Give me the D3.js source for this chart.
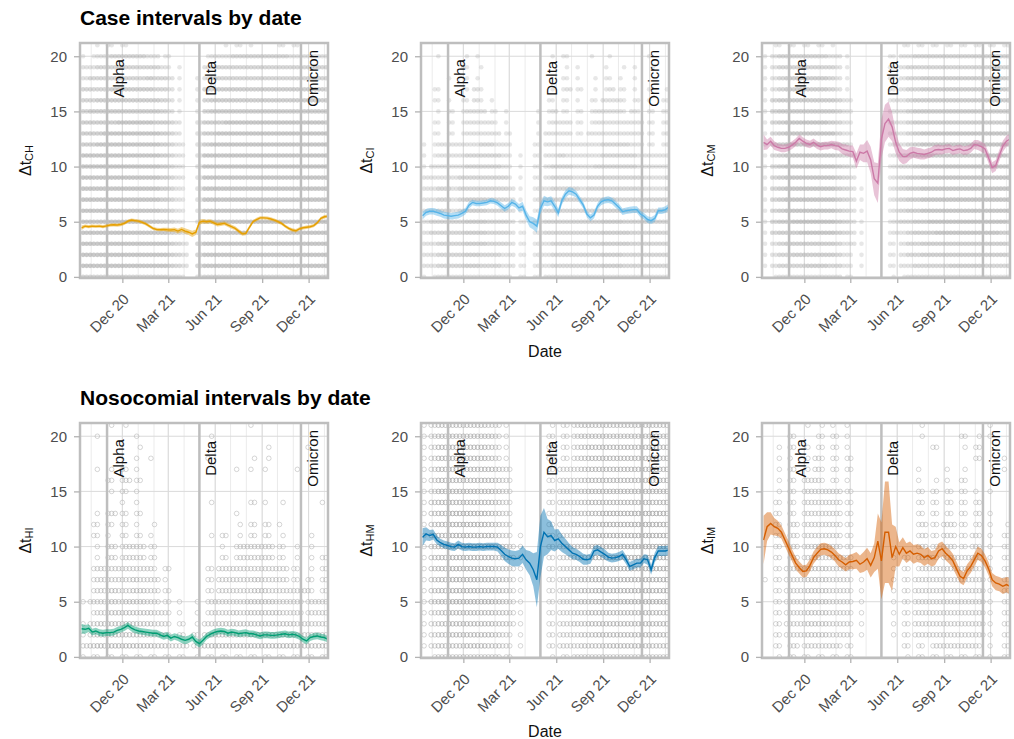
<!DOCTYPE html>
<html>
<head>
<meta charset="utf-8">
<title>Case and nosocomial intervals by date</title>
<script src="https://d3js.org/d3.v7.min.js"></script>
<style>
  body { margin: 0; background: #fff; }
  svg text { font-family: "Liberation Sans", Arial, Helvetica, sans-serif; }
</style>
</head>
<body>
<div id="chart"></div>
<script>
// weekly estimates, first and last week
var firstWeek = "2020-09-12", lastWeek = "2022-01-08";

var tickDates = ["2020-12-01", "2021-03-01", "2021-06-01", "2021-09-01", "2021-12-01"];
var tickLabels = ["Dec 20", "Mar 21", "Jun 21", "Sep 21", "Dec 21"];
var yTicks = [0, 5, 10, 15, 20];

var variants = ["Alpha", "Delta", "Omicron"];
var variantDates = ["2020-11-01", "2021-05-01", "2021-11-16"];

// mean interval (days) per week
var chMean = [4.45,4.6,4.55,4.6,4.58,4.6,4.55,4.62,4.7,4.72, 4.7,4.75,4.85,5.05,5.15,5.1,5.05,4.95,4.8,4.6,
  4.4,4.3,4.28,4.3,4.27,4.25,4.28,4.15,4.3,4.15, 4.05,3.9,4.05,4.95,5.05,5.0,5.05,4.9,4.75,4.8,
  4.85,4.7,4.55,4.4,4.15,3.9,3.95,4.5,5.0,5.2, 5.35,5.35,5.33,5.25,5.15,5.0,4.85,4.6,4.4,4.25,
  4.18,4.35,4.45,4.5,4.55,4.65,4.9,5.3,5.45,5.5];
var ciMean = [5.55,5.85,5.95,5.95,5.85,5.75,5.6,5.55,5.5,5.55, 5.6,5.75,5.95,6.5,6.75,6.65,6.65,6.7,6.75,6.9,
  6.85,6.7,6.45,6.2,6.4,6.75,6.6,6.25,6.4,5.6, 5.0,4.85,4.6,6.2,6.9,6.8,6.9,6.4,5.8,6.9,
  7.5,7.8,7.7,7.5,7.0,6.5,5.7,5.35,5.6,6.4, 6.8,6.95,7.0,6.9,6.6,6.3,5.9,6.0,6.05,6.1,
  6.1,5.7,5.5,5.2,5.1,5.3,6.0,6.0,6.1,6.35];
var cmMean = [12.2,12.0,12.3,11.9,11.75,11.65,11.65,11.75,11.95,12.2, 12.55,12.3,12.1,12.0,12.2,11.95,11.8,11.9,11.9,12.0,
  11.9,11.85,11.6,11.5,11.4,11.35,10.5,11.3,11.2,11.4, 10.6,8.9,8.5,12.5,13.9,14.3,13.6,12.2,11.3,10.9,
  10.9,11.2,11.3,11.2,11.15,11.1,11.2,11.3,11.5,11.55, 11.5,11.6,11.65,11.45,11.55,11.6,11.45,11.5,11.65,12.0,
  11.95,11.8,11.6,10.8,9.9,10.1,11.0,11.85,12.3,12.5];
var hiMean = [2.55,2.5,2.6,2.25,2.35,2.2,2.15,2.2,2.2,2.25, 2.4,2.5,2.65,2.85,2.6,2.45,2.35,2.3,2.25,2.2,
  2.15,2.15,2.0,1.85,1.95,1.7,1.85,1.75,1.6,1.5, 1.6,1.8,1.4,1.2,1.5,1.85,2.05,2.2,2.3,2.35,
  2.3,2.15,2.25,2.2,2.1,2.15,2.2,2.1,2.1,2.0, 1.9,2.0,2.0,1.95,1.95,2.0,2.05,2.1,2.0,2.05,
  2.0,1.85,1.6,1.45,1.75,1.85,1.9,1.8,1.75,1.6];
var hmMean = [10.85,11.15,11.0,11.1,10.6,10.35,10.2,10.1,10.0,9.95, 10.2,10.0,9.95,10.0,9.95,9.95,10.0,9.95,10.0,10.0,
  10.0,9.95,9.65,9.3,9.1,8.95,8.9,8.95,9.3,8.8, 8.5,7.9,7.0,10.0,11.3,10.9,11.0,10.55,10.7,10.3,
  10.0,9.7,9.4,9.3,9.1,8.85,8.8,8.9,9.6,9.7, 9.5,9.3,9.05,8.95,9.0,9.1,9.3,8.8,8.2,8.35,
  8.5,8.5,8.9,8.8,7.9,9.0,9.6,9.6,9.6,9.7];
var imMean = [10.6,11.8,12.1,11.8,11.65,11.3,10.6,9.9,9.2,8.5, 8.1,7.75,7.8,8.3,9.0,9.4,9.75,9.8,9.7,9.5,
  9.2,8.8,8.6,8.35,8.6,8.65,8.75,8.4,8.6,8.9, 8.3,9.0,10.5,8.7,11.3,11.3,9.0,10.0,9.3,9.9,
  9.4,9.6,9.3,9.4,9.3,9.0,9.2,8.9,9.0,9.6, 9.8,9.4,9.1,8.7,8.0,7.3,7.1,7.8,8.2,8.8,
  9.4,9.2,8.7,8.0,7.0,6.7,6.6,6.4,6.55,6.4];

// half width of the uncertainty band per week
var chHalf = [0.2,0.15,0.15,0.15,0.15,0.15,0.15,0.15,0.15,0.15, 0.15,0.15,0.15,0.15,0.15,0.15,0.15,0.15,0.15,0.15,
  0.15,0.15,0.15,0.15,0.18,0.18,0.2,0.22,0.22,0.25, 0.25,0.28,0.25,0.22,0.2,0.18,0.18,0.18,0.18,0.18,
  0.18,0.18,0.18,0.18,0.18,0.18,0.18,0.18,0.15,0.15, 0.15,0.15,0.15,0.15,0.15,0.15,0.15,0.15,0.15,0.15,
  0.15,0.15,0.15,0.15,0.15,0.15,0.15,0.15,0.15,0.15];
var ciHalf = [0.35,0.3,0.3,0.3,0.3,0.3,0.3,0.3,0.3,0.3, 0.3,0.3,0.3,0.3,0.25,0.25,0.25,0.25,0.25,0.25,
  0.25,0.25,0.3,0.3,0.3,0.3,0.3,0.35,0.4,0.45, 0.5,0.55,0.6,0.5,0.45,0.4,0.4,0.4,0.4,0.35,
  0.35,0.35,0.35,0.3,0.3,0.3,0.3,0.3,0.3,0.3, 0.3,0.3,0.3,0.3,0.3,0.3,0.3,0.3,0.3,0.3,
  0.3,0.3,0.3,0.3,0.3,0.3,0.3,0.3,0.3,0.3];
var cmHalf = [0.7,0.45,0.4,0.4,0.35,0.35,0.35,0.35,0.35,0.35, 0.35,0.35,0.35,0.35,0.35,0.35,0.35,0.35,0.35,0.35,
  0.4,0.4,0.45,0.5,0.5,0.55,0.7,0.7,0.8,1.0, 1.2,1.5,1.8,1.8,1.7,1.6,1.3,1.0,0.8,0.7,
  0.6,0.55,0.5,0.5,0.5,0.45,0.45,0.45,0.45,0.45, 0.4,0.4,0.4,0.4,0.4,0.4,0.4,0.4,0.4,0.4,
  0.45,0.45,0.45,0.5,0.5,0.5,0.5,0.5,0.5,0.5];
var hiHalf = [0.45,0.4,0.35,0.3,0.3,0.3,0.3,0.3,0.3,0.3, 0.3,0.3,0.3,0.3,0.3,0.3,0.3,0.3,0.3,0.3,
  0.3,0.3,0.3,0.3,0.3,0.3,0.3,0.3,0.35,0.35, 0.35,0.35,0.35,0.35,0.35,0.3,0.3,0.3,0.3,0.3,
  0.3,0.3,0.3,0.3,0.3,0.3,0.3,0.3,0.3,0.3, 0.3,0.3,0.3,0.3,0.3,0.3,0.3,0.3,0.3,0.3,
  0.3,0.3,0.3,0.3,0.3,0.3,0.3,0.3,0.3,0.3];
var hmHalf = [0.8,0.6,0.5,0.45,0.4,0.35,0.35,0.35,0.35,0.35, 0.35,0.35,0.35,0.35,0.35,0.35,0.35,0.35,0.35,0.35,
  0.35,0.4,0.5,0.6,0.65,0.7,0.7,0.75,0.8,0.9, 1.1,1.5,2.5,2.8,2.2,1.6,1.3,1.0,0.9,0.8,
  0.7,0.6,0.55,0.5,0.5,0.5,0.45,0.45,0.45,0.45, 0.45,0.45,0.4,0.4,0.4,0.4,0.4,0.4,0.4,0.4,
  0.4,0.4,0.4,0.45,0.45,0.45,0.45,0.45,0.45,0.45];
var imHalf = [2.2,1.3,1.0,0.8,0.7,0.6,0.6,0.6,0.55,0.55, 0.55,0.55,0.55,0.55,0.55,0.55,0.55,0.55,0.55,0.55,
  0.55,0.6,0.6,0.6,0.65,0.7,0.75,0.8,0.9,1.0, 1.1,1.3,2.5,3.5,4.6,4.6,3.0,1.8,1.1,0.95,
  0.9,0.85,0.85,0.8,0.8,0.75,0.75,0.7,0.7,0.7, 0.65,0.65,0.65,0.65,0.65,0.6,0.6,0.6,0.6,0.6,
  0.6,0.6,0.6,0.6,0.6,0.65,0.65,0.7,0.7,0.75];

// individual intervals: density level (0-5) per two-week column, rows from 21 days down to 0
var dotStart = "2020-09-12";
var chDots = [
  "00111 11000 00000 00000 11110 00111 10000",
  "11223 33332 21100 00122 23333 33332 22222",
  "22333 33333 32110 00223 33333 33333 33333",
  "23333 33334 33210 01233 33333 33333 33333",
  "33334 44444 33210 01334 44444 44444 44443",
  "33444 44444 43210 01344 44444 44444 44444",
  "34444 44444 43210 01344 44444 44444 44444",
  "44444 55555 44320 02444 55555 55555 55554",
  "44455 55555 54320 02445 55555 55555 55555",
  "44555 55555 54321 02455 55555 55555 55555",
  "55555 55555 54321 02555 55555 55555 55555",
  "55555 55555 54321 02555 55555 55555 55555",
  "55555 55555 54321 02555 55555 55555 55555",
  "55555 55555 54321 02555 55555 55555 55555",
  "55555 55555 54321 02555 55555 55555 55555",
  "55555 55555 54321 02555 55555 55555 55555",
  "55555 55555 54321 02555 55555 55555 55555",
  "55555 55555 55432 03555 55555 55555 55555",
  "55555 55555 55432 03555 55555 55555 55555",
  "55555 55555 55432 03555 55555 55555 55555",
  "55555 55555 55432 03555 55555 55555 55555",
  "33333 33333 33221 02333 33333 33333 33333"];
var ciDots = [
  "00000 00000 00000 00000 00000 00000 00000",
  "00100 01100 00000 00011 10010 01000 01000",
  "00000 11010 00000 00000 11000 10011 00100",
  "00010 01100 00000 00001 11001 11101 00000",
  "01100 01210 00000 00011 21101 12111 01001",
  "01110 11211 00000 00111 11011 22211 11011",
  "00111 12221 11000 01121 11112 22212 11111",
  "01111 12222 11000 01122 21112 22222 21112",
  "01111 12222 21100 01222 21122 22222 21112",
  "11222 22233 22100 11222 22222 33332 21112",
  "11222 23333 32110 11223 22222 33333 22222",
  "12222 23333 32110 11233 32223 33333 22222",
  "22222 33333 33110 11233 32233 33333 32223",
  "22332 33333 33210 12233 33233 33333 32223",
  "22332 34443 33210 12333 33333 44333 33333",
  "22332 34443 33210 12333 33333 44433 33333",
  "23333 34443 33211 12333 33333 44433 33333",
  "23333 34443 33211 12333 33333 44443 33333",
  "22333 34443 33211 12233 33333 44443 33333",
  "22333 34433 32211 12233 33333 44433 33333",
  "22333 34433 32211 12233 33333 44433 33333",
  "11222 22222 22111 11222 22222 22222 22222"];
var cmDots = [
  "01111 11111 00000 00001 11111 11111 11111",
  "12333 33332 21000 00112 23333 33333 33333",
  "12333 33333 21000 00112 33333 33333 33333",
  "12344 44443 21000 00112 33444 44444 44443",
  "12344 44443 21000 00112 33444 44444 44443",
  "13444 44444 32100 00122 34444 44444 44444",
  "13444 44444 32100 00122 34444 44444 44444",
  "13455 55554 32100 00122 34444 44444 44444",
  "13455 55555 32100 00122 34555 55555 55554",
  "13455 55555 33100 00122 34555 55555 55554",
  "13455 55555 43200 00123 34555 55555 55554",
  "13455 55555 43200 00123 34555 55555 55555",
  "13455 55555 43200 00123 44555 55555 55555",
  "13455 55555 43210 00123 44555 55555 55555",
  "13455 55555 43210 00123 44555 55555 55555",
  "13455 55555 43210 00123 44555 55555 55555",
  "13445 55555 43210 00123 34455 55555 55554",
  "13444 55555 43210 00122 34445 55555 55544",
  "12344 44444 32210 00112 33444 44444 44443",
  "12334 44444 32110 00112 33444 44444 44443",
  "12333 34443 32110 00112 23333 34444 43333",
  "01222 22222 21100 00011 22222 22222 22222"];
var hiDots = [
  "00001 01000 00000 00000 00010 00000 00000",
  "00100 00100 00000 00010 00000 00000 00000",
  "00000 00010 00000 00000 00000 01000 01000",
  "00000 00101 00000 00100 00001 01000 00000",
  "00101 11100 00000 00000 01010 10000 10000",
  "00011 12110 00000 00000 00000 00000 00000",
  "00001 11100 00000 00000 00000 00000 00000",
  "00000 10100 00000 00010 00011 10010 00010",
  "00112 11110 00000 00000 01000 00000 00000",
  "01111 11100 10000 00000 00111 11100 00000",
  "01110 11111 00000 00011 10111 11010 00100",
  "00112 12221 10000 00001 01222 22110 10100",
  "00112 12221 10000 00001 11222 22110 10111",
  "01222 22222 11100 00112 22222 22221 10111",
  "01222 22322 21000 00112 22223 22221 11111",
  "01223 22332 21100 00112 22223 32222 22111",
  "12223 23332 21110 01122 22233 33222 21222",
  "01223 33333 22110 01122 23233 33322 21222",
  "12333 33333 22111 01223 33333 33333 22222",
  "12333 33333 22111 11233 33333 33333 22222",
  "23444 44444 33222 12344 44444 44444 33333",
  "11111 11111 11111 01111 11111 11111 11111"];
var hmDots = [
  "12333 33332 21000 00011 12333 33333 33333",
  "12333 33333 21000 00111 12333 33333 33333",
  "12444 44443 21000 00111 12344 44444 44444",
  "12444 44443 21000 00111 12344 44444 44444",
  "12444 44444 32100 00112 22344 44444 44444",
  "12444 44444 32100 00112 22344 44444 44444",
  "12444 44444 32100 00112 22344 44444 44444",
  "13444 44444 32100 00112 22344 44444 44444",
  "13445 55554 32100 00112 23344 55555 55554",
  "13445 55554 32100 00112 23344 55555 55554",
  "13445 55555 32110 00112 23345 55555 55554",
  "13445 55555 33210 00112 23345 55555 55555",
  "13445 55555 33210 00112 23345 55555 55555",
  "13445 55555 33210 00112 23345 55555 55555",
  "13445 55555 43210 00112 23445 55555 55555",
  "13445 55555 43210 00112 23445 55555 55555",
  "13445 55555 43210 00112 23445 55555 55555",
  "12344 44444 33210 00112 23344 44444 44444",
  "12344 44444 33210 00112 23344 44444 44444",
  "12334 44444 32110 00112 22334 44444 44443",
  "12333 34443 32110 00112 22333 34444 43333",
  "01222 22222 21100 00011 12222 22222 22222"];
var imDots = [
  "00000 01011 01000 00000 00100 00000 01000",
  "00011 00111 11000 00000 00100 00110 11000",
  "00111 01111 11000 00000 00011 00011 10000",
  "00110 01211 11100 00000 00000 00001 10010",
  "00111 01211 11100 00000 01000 10010 00010",
  "00111 12211 11000 00000 01001 10110 00000",
  "00111 12222 21100 00000 01111 11111 01000",
  "01111 12222 21100 00000 01111 11111 10000",
  "01111 12222 21100 00000 01111 11111 11000",
  "01112 12222 21100 00000 01211 22111 11001",
  "01112 12222 21100 00000 01211 22112 11011",
  "01112 12322 21100 00000 01211 22112 11011",
  "01112 12322 22100 00011 11221 22222 11011",
  "01122 23332 22100 00011 11222 22222 11011",
  "11122 23332 22110 00011 12222 22222 21011",
  "01122 23332 22110 00011 12222 22222 21011",
  "01122 23332 22110 00011 12222 22222 21011",
  "01122 23332 22110 00011 12222 22222 21011",
  "01122 23332 22110 00011 12222 22222 21011",
  "01122 23332 22110 00011 12222 22222 21011",
  "01112 12222 21100 00001 11112 22222 11011",
  "00111 11111 11100 00000 11111 11111 11011"];

var panels = [
  { row: 0, col: 0, key: "CH", mean: chMean, half: chHalf, dots: chDots, color: "#E69F00", hollow: false },
  { row: 0, col: 1, key: "CI", mean: ciMean, half: ciHalf, dots: ciDots, color: "#56B4E9", hollow: false },
  { row: 0, col: 2, key: "CM", mean: cmMean, half: cmHalf, dots: cmDots, color: "#CC79A7", hollow: false },
  { row: 1, col: 0, key: "HI", mean: hiMean, half: hiHalf, dots: hiDots, color: "#009E73", hollow: true },
  { row: 1, col: 1, key: "HM", mean: hmMean, half: hmHalf, dots: hmDots, color: "#0072B2", hollow: true },
  { row: 1, col: 2, key: "IM", mean: imMean, half: imHalf, dots: imDots, color: "#D55E00", hollow: true }
];
var rowTitles = ["Case intervals by date", "Nosocomial intervals by date"];

var parse = d3.utcParse("%Y-%m-%d");
var weeks = d3.utcDay.range(parse(firstWeek), d3.utcDay.offset(parse(lastWeek), 1), 7);

var svg = d3.select("#chart").append("svg")
            .attr("width", 1014)
            .attr("height", 739)
            .style("display", "block");

var colX = [80, 421, 762], rowY = [43, 423];
var pw = 248, ph = 235;
var frame = "#bebebe";
var fillAlpha = [0, 0.3, 0.36, 0.5, 0.6, 0.7];
var ringAlpha = [0, 0.45, 0.5, 0.62, 0.72, 0.82];

var x = d3.scaleUtc()
          .domain([parse("2020-09-09"), parse("2022-01-08")])
          .range([0, pw]);
var y = d3.scaleLinear()
          .domain([-0.1, 21.2])
          .range([ph, 0]);

var months = d3.utcMonth.range(x.domain()[0], x.domain()[1]);
var majors = tickDates.map(parse);

// row titles
rowTitles.forEach(function(t, r) {
  svg.append("text")
     .attr("x", 80)
     .attr("y", rowY[r] - 18)
     .style("font-size", "21px")
     .style("font-weight", "bold")
     .attr("fill", "#000")
     .text(t);
});

var defs = svg.append("defs");

panels.forEach(function(p, k) {
  var g = svg.append("g")
             .attr("transform", `translate(${colX[p.col]},${rowY[p.row]})`);

  defs.append("clipPath").attr("id", "clip" + k)
      .append("rect").attr("width", pw).attr("height", ph);

  var inner = g.append("g").attr("clip-path", `url(#clip${k})`);

  // grid
  inner.selectAll("line.minor")
       .data(months)
       .enter().append("line")
       .attr("x1", d => x(d)).attr("x2", d => x(d))
       .attr("y1", 0).attr("y2", ph)
       .attr("stroke", "#e6e6e6").attr("stroke-width", 0.8);
  inner.selectAll("line.vmajor")
       .data(majors)
       .enter().append("line")
       .attr("x1", d => x(d)).attr("x2", d => x(d))
       .attr("y1", 0).attr("y2", ph)
       .attr("stroke", "#dadada").attr("stroke-width", 1);
  inner.selectAll("line.hmajor")
       .data(yTicks)
       .enter().append("line")
       .attr("x1", 0).attr("x2", pw)
       .attr("y1", d => y(d)).attr("y2", d => y(d))
       .attr("stroke", "#dadada").attr("stroke-width", 1);

  // individual intervals: sparse cells get one mark, denser cells two
  var dotData = [];
  p.dots.forEach(function(row, r) {
    var v = 21 - r;
    row.replace(/ /g, "").split("").forEach(function(ch, c) {
      var lvl = +ch;
      if (!lvl) return;
      var marks = lvl === 1 ? [(c % 2)] : [0, 1];
      marks.forEach(function(w) {
        dotData.push({ date: d3.utcDay.offset(parse(dotStart), 14 * c + 7 * w + 3), v: v, lvl: lvl });
      });
    });
  });
  var dots = inner.selectAll("circle.pt")
                  .data(dotData)
                  .enter().append("circle")
                  .attr("cx", d => x(d.date))
                  .attr("cy", d => y(d.v))
                  .attr("r", 2.3);
  if (p.hollow) {
    dots.attr("fill", "none")
        .attr("stroke", "#a3a3a3")
        .attr("stroke-width", 1)
        .attr("stroke-opacity", d => ringAlpha[d.lvl]);
  } else {
    dots.attr("fill", "#b0b0b0")
        .attr("fill-opacity", d => fillAlpha[d.lvl]);
  }

  // variant markers
  variants.forEach(function(name, i) {
    var vx = x(parse(variantDates[i]));
    inner.append("line")
         .attr("x1", vx).attr("x2", vx)
         .attr("y1", 0).attr("y2", ph)
         .attr("stroke", frame).attr("stroke-width", 2.5);
    inner.append("text")
         .attr("transform", `translate(${vx + 17},${y(18)}) rotate(-90)`)
         .attr("text-anchor", "middle")
         .style("font-size", "15px")
         .attr("fill", "#111")
         .text(name);
  });

  // band and mean
  var area = d3.area()
               .x((d, i) => x(weeks[i]))
               .y0((d, i) => y(d - p.half[i]))
               .y1((d, i) => y(d + p.half[i]));
  var line = d3.line()
               .x((d, i) => x(weeks[i]))
               .y(d => y(d));
  inner.append("path")
       .datum(p.mean)
       .attr("fill", p.color)
       .attr("fill-opacity", 0.45)
       .attr("d", area);
  inner.append("path")
       .datum(p.mean)
       .attr("fill", "none")
       .attr("stroke", p.color)
       .attr("stroke-width", 1.4)
       .attr("d", line);

  // border
  g.append("rect")
   .attr("width", pw).attr("height", ph)
   .attr("fill", "none")
   .attr("stroke", frame)
   .attr("stroke-width", 2.5);

  // axes
  var yAxis = g.append("g")
               .call(d3.axisLeft(y).tickValues(yTicks).tickSize(6).tickPadding(7));
  var xAxis = g.append("g")
               .attr("transform", `translate(0,${ph})`)
               .call(d3.axisBottom(x).tickValues(majors).tickSize(5)
                       .tickFormat((d, i) => tickLabels[i]));
  [yAxis, xAxis].forEach(function(a) {
    a.select(".domain").remove();
    a.selectAll(".tick line").attr("stroke", "#b3b3b3").attr("stroke-width", 1.3);
    a.selectAll(".tick text")
     .attr("fill", "#4d4d4d")
     .style("font-size", "15px")
     .style("font-family", "'Liberation Sans', Arial, Helvetica, sans-serif");
  });
  xAxis.selectAll(".tick text")
       .attr("x", 0).attr("y", 0).attr("dy", 0)
       .attr("text-anchor", "end")
       .attr("transform", "translate(7,22) rotate(-45)");

  // y title
  var yt = g.append("text")
            .attr("transform", `translate(-49,${ph / 2}) rotate(-90)`)
            .attr("text-anchor", "middle")
            .attr("fill", "#111")
            .style("font-size", "16px");
  yt.append("tspan").text("\u0394t");
  yt.append("tspan").attr("dy", 2).style("font-size", "11px").text(p.key);

  // x title under the middle column
  if (p.col === 1) {
    g.append("text")
     .attr("x", pw / 2)
     .attr("y", ph + 79)
     .attr("text-anchor", "middle")
     .attr("fill", "#111")
     .style("font-size", "16px")
     .text("Date");
  }
});
</script>
</body>
</html>
